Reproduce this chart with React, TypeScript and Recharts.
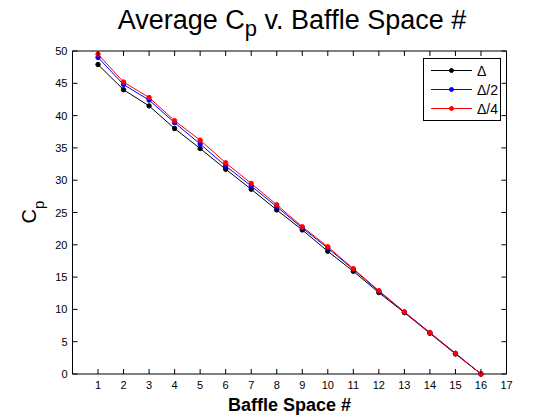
import React from 'react';
import { LineChart, Line, XAxis, YAxis, Legend } from 'recharts';

const spaces = [1, 2, 3, 4, 5, 6, 7, 8, 9, 10, 11, 12, 13, 14, 15, 16];
const deltaValues = [47.9, 44.0, 41.5, 38.0, 34.9, 31.7, 28.6, 25.4, 22.3, 19.0, 15.9, 12.6, 9.5, 6.3, 3.1, 0];
const halfValues = [49.0, 44.8, 42.4, 38.9, 35.6, 32.2, 29.1, 25.9, 22.6, 19.5, 16.2, 12.8, 9.6, 6.4, 3.2, 0];
const quarterValues = [49.5, 45.2, 42.8, 39.2, 36.2, 32.7, 29.5, 26.2, 22.8, 19.7, 16.3, 12.9, 9.6, 6.4, 3.2, 0];
const xTicks = [1, 2, 3, 4, 5, 6, 7, 8, 9, 10, 11, 12, 13, 14, 15, 16, 17];
const yTicks = [0, 5, 10, 15, 20, 25, 30, 35, 40, 45, 50];
const seriesNames = ['Δ', 'Δ/2', 'Δ/4'];
const seriesColors = ['#000000', '#0000ff', '#ff0000'];

const data = spaces.map((s, i) => ({
  x: s,
  d1: deltaValues[i],
  d2: halfValues[i],
  d4: quarterValues[i],
}));

const X_MAX = 17;
const Y_MAX = 50;
const FONT = '"Liberation Sans", Arial, sans-serif';
const TICK_LEN = 5;

// plot frame geometry (must agree with the chart margins + axis sizes below)
const CHART_W = 560;
const CHART_H = 420;
const MARGIN = { top: 51, right: 53.5, bottom: 16, left: 32.5 };
const X_AXIS_H = 30;
const Y_AXIS_W = 40;
const PLOT_L = MARGIN.left + Y_AXIS_W;
const PLOT_T = MARGIN.top;
const PLOT_R = CHART_W - MARGIN.right;
const PLOT_B = CHART_H - MARGIN.bottom - X_AXIS_H;
const frameX = (v: number) => PLOT_L + ((PLOT_R - PLOT_L) * v) / X_MAX;
const frameY = (v: number) => PLOT_B - ((PLOT_B - PLOT_T) * v) / Y_MAX;

const BottomTick = (props: any) => {
  const { x, y, payload } = props;
  const axisY = y - 5;
  return (
    <g>
      <line x1={x} y1={axisY} x2={x} y2={axisY - TICK_LEN} stroke="#000" />
      <text x={x} y={y + 10} textAnchor="middle" fontSize={11} fontFamily={FONT} fill="#000">
        {payload.value}
      </text>
    </g>
  );
};

const LeftTick = (props: any) => {
  const { x, y, payload } = props;
  const axisX = x + 5;
  return (
    <g>
      <line x1={axisX} y1={y} x2={axisX + TICK_LEN} y2={y} stroke="#000" />
      <text x={x} y={y + 4} textAnchor="end" fontSize={11} fontFamily={FONT} fill="#000">
        {payload.value}
      </text>
    </g>
  );
};

const LegendBox = (props: any) => {
  const payload = (props.payload || []) as any[];
  const rows = [12.5, 31.5, 50.5];
  return (
    <svg width={78} height={63} style={{ display: 'block' }}>
      <rect x={0.5} y={0.5} width={77} height={62} fill="#fff" stroke="#000" />
      {payload.map((p, i) => (
        <g key={i}>
          <line x1={8} y1={rows[i]} x2={49} y2={rows[i]} stroke={p.color} strokeWidth={1} />
          <circle cx={28.5} cy={rows[i]} r={2} fill={p.color} stroke={p.color} />
          <text x={54} y={rows[i] + 5} fontSize={14} fontFamily={FONT} fill="#000">
            {p.value}
          </text>
        </g>
      ))}
    </svg>
  );
};

export default function App() {
  return (
    <div style={{ position: 'absolute', left: 0, top: 0, width: CHART_W, height: CHART_H, background: '#fff' }}>
      <LineChart width={CHART_W} height={CHART_H} data={data} margin={MARGIN}>
        <XAxis
          dataKey="x"
          type="number"
          domain={[0, X_MAX]}
          ticks={xTicks}
          height={X_AXIS_H}
          tickSize={0}
          tickMargin={5}
          tickLine={false}
          axisLine={{ stroke: '#000' }}
          tick={<BottomTick />}
          interval={0}
        />
        <YAxis
          type="number"
          domain={[0, Y_MAX]}
          ticks={yTicks}
          width={Y_AXIS_W}
          tickSize={0}
          tickMargin={5}
          tickLine={false}
          axisLine={{ stroke: '#000' }}
          tick={<LeftTick />}
          interval={0}
        />
        <Legend
          layout="horizontal"
          verticalAlign="middle"
          align="center"
          content={<LegendBox />}
          wrapperStyle={{ position: 'absolute', left: 423, top: 58, width: 78, height: 63 }}
        />
        <Line
          dataKey="d1"
          name={seriesNames[0]}
          stroke={seriesColors[0]}
          strokeWidth={1}
          dot={{ r: 2.2, fill: seriesColors[0], stroke: seriesColors[0], strokeWidth: 1 }}
          isAnimationActive={false}
        />
        <Line
          dataKey="d2"
          name={seriesNames[1]}
          stroke={seriesColors[1]}
          strokeWidth={1}
          dot={{ r: 2.2, fill: seriesColors[1], stroke: seriesColors[1], strokeWidth: 1 }}
          isAnimationActive={false}
        />
        <Line
          dataKey="d4"
          name={seriesNames[2]}
          stroke={seriesColors[2]}
          strokeWidth={1}
          dot={{ r: 2.2, fill: seriesColors[2], stroke: seriesColors[2], strokeWidth: 1 }}
          isAnimationActive={false}
        />
      </LineChart>
      <svg
        width={CHART_W}
        height={CHART_H}
        style={{ position: 'absolute', left: 0, top: 0, pointerEvents: 'none' }}
      >
        {/* top and right edges of the axes box, with inward ticks */}
        <line x1={PLOT_L} y1={PLOT_T} x2={PLOT_R} y2={PLOT_T} stroke="#000" />
        <line x1={PLOT_R} y1={PLOT_T} x2={PLOT_R} y2={PLOT_B} stroke="#000" />
        {xTicks.map((t) => (
          <line key={`tt${t}`} x1={frameX(t)} y1={PLOT_T} x2={frameX(t)} y2={PLOT_T + TICK_LEN} stroke="#000" />
        ))}
        {yTicks.map((t) => (
          <line key={`rt${t}`} x1={PLOT_R} y1={frameY(t)} x2={PLOT_R - TICK_LEN} y2={frameY(t)} stroke="#000" />
        ))}
        <text x={292} y={29} textAnchor="middle" fontSize={27} fontFamily={FONT} fill="#000">
          Average C
          <tspan dy={7} fontSize={22}>p</tspan>
          <tspan dy={-7}> v. Baffle Space #</tspan>
        </text>
        <text
          x={0}
          y={0}
          transform="translate(36,212) rotate(-90)"
          textAnchor="middle"
          fontSize={20}
          fontFamily={FONT}
          fill="#000"
        >
          C
          <tspan dy={8} fontSize={15}>p</tspan>
        </text>
        <text x={289.5} y={411} textAnchor="middle" fontSize={18} fontWeight="bold" fontFamily={FONT} fill="#000">
          Baffle Space #
        </text>
      </svg>
    </div>
  );
}
